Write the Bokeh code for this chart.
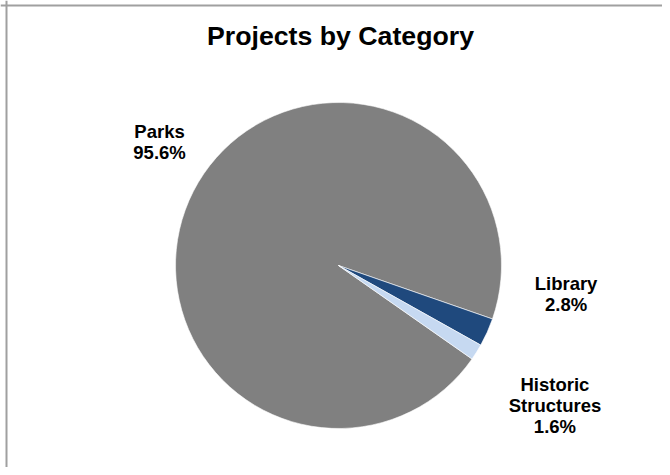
import math
from bokeh.plotting import figure
from bokeh.models import Label, Span, ColumnDataSource
from bokeh.core.properties import value
from bokeh.embed import file_html
from bokeh.resources import INLINE

# ---- data ----
categories = ["Parks", "Library", "Historic\nStructures"]
shares = [95.6, 2.8, 1.6]
colors = ["#808080", "#1F497D", "#C6D9F1"]
title_text = "Projects by Category"

# ---- layout / style ----
W, H = 662, 467
CX, CY = 338, 265          # pie centre in canvas px (from top-left)
R = 163                    # pie radius px
FIRST_SLICE_ANGLE = 125.0  # degrees clockwise from 12 o'clock (Excel style)
# label anchors in pie-radius units (dx, dy) relative to the centre
label_anchor = [(-1.098, 0.760), (1.396, -0.175), (1.328, -0.860)]

x0 = -CX / R
x1 = (W - CX) / R
y0 = -(H - CY) / R
y1 = CY / R

p = figure(width=W, height=H, x_range=(x0, x1), y_range=(y0, y1),
           output_backend="svg", toolbar_location=None, min_border=0,
           x_axis_type=None, y_axis_type=None)
p.grid.visible = False
p.outline_line_color = None
p.background_fill_color = "white"
p.border_fill_color = "white"

total = sum(shares)
start = math.radians(90 - FIRST_SLICE_ANGLE)
starts, ends = [], []
cur = start
for s in shares:
    a = 2 * math.pi * s / total
    starts.append(cur)
    ends.append(cur - a)
    cur -= a

labels = [f"{c}\n{s:.1f}%" for c, s in zip(categories, shares)]
src = ColumnDataSource(dict(
    start=starts, end=ends, color=colors, label=labels,
    lx=[a[0] for a in label_anchor], ly=[a[1] for a in label_anchor]))

p.wedge(x=0, y=0, radius=1.0, start_angle="start", end_angle="end",
        direction="clock", fill_color="color", line_color="white",
        line_width=0.6, source=src)

p.text(x="lx", y="ly", text="label", source=src,
       text_font=value("Liberation Sans"), text_font_style="bold",
       text_font_size="18.5px", text_color="black", text_align="center",
       text_baseline="middle", text_line_height=1.0)

p.add_layout(Label(x=340, y=H - 35, x_units="screen", y_units="screen",
                   text=title_text, text_font="Liberation Sans",
                   text_font_style="bold", text_font_size="26.7px",
                   text_color="black", text_align="center",
                   text_baseline="alphabetic"))

# chart-area border (only top and left visible in the reference)
px = 1.0 / R
p.add_layout(Span(location=x0 + 6 * px, dimension="height",
                  line_color="#A0A0A0", line_width=2))
p.add_layout(Span(location=y1 - 5 * px, dimension="width",
                  line_color="#A0A0A0", line_width=2))

open("out.html", "w").write(file_html(p, INLINE))
